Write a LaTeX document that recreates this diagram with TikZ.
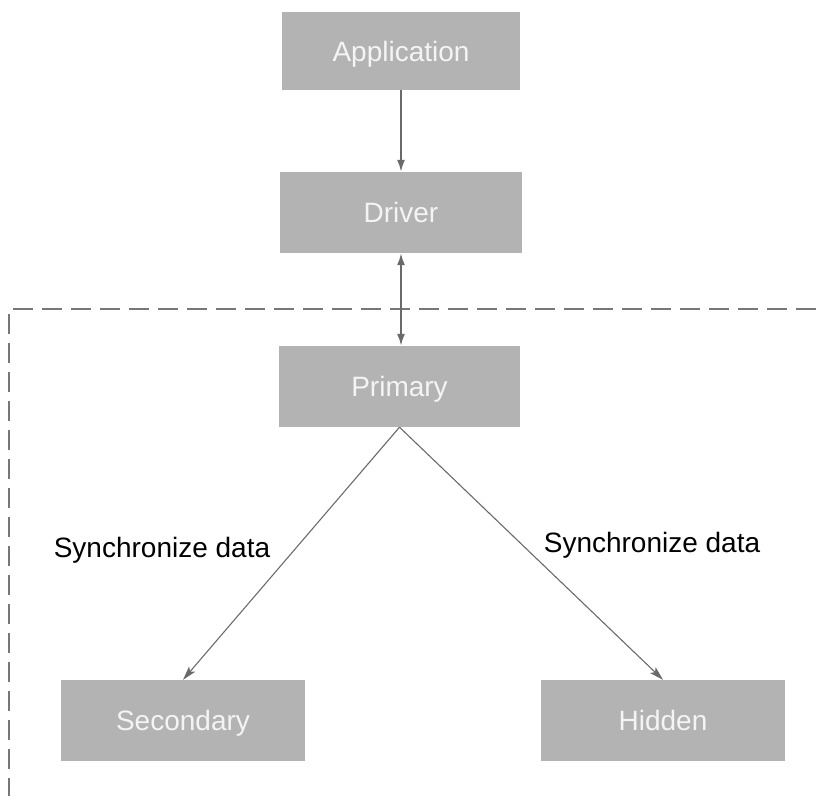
\documentclass[tikz,border=0pt]{standalone}
\usepackage{fontspec}
\setmainfont{Liberation Sans}
\usetikzlibrary{arrows.meta}
\definecolor{boxgray}{HTML}{B3B3B3}
\definecolor{boxtext}{HTML}{F4F4F4}
\definecolor{linegray}{HTML}{6A6A6A}
\definecolor{dashgray}{HTML}{777777}
\tikzset{
  block/.style={fill=boxgray, draw=none, inner sep=0pt, text=boxtext,
    text depth=0pt, font=\fontsize{28}{32}\selectfont},
  link/.style={draw=linegray, line width=1.8pt,
    -{Latex[length=12pt,width=8pt]}},
  twoway/.style={draw=linegray, line width=1.8pt,
    {Latex[length=12pt,width=8pt]}-{Latex[length=12pt,width=8pt]}},
  sync/.style={draw=linegray, line width=1.1pt,
    -{Stealth[length=14pt,width=8pt,inset=3pt]}},
  zone/.style={draw=dashgray, line width=1.6pt, dash pattern=on 20pt off 9pt},
  note/.style={font=\fontsize{28}{32}\selectfont, text=black, inner sep=0pt}
}
\begin{document}
\begin{tikzpicture}[x=1pt,y=-1pt]
  \useasboundingbox (0,0) rectangle (816,796);

  % boundary of the storage cluster
  \coordinate (zoneTR) at (816,309);
  \coordinate (zoneTL) at (9,309);
  \coordinate (zoneBL) at (9,796);
  \draw[zone] (zoneTR) -- (zoneTL) -- (zoneBL);

  % boxes
  \node[block, minimum width=238pt, minimum height=78pt] (app) at (401,51) {Application};
  \node[block, minimum width=242pt, minimum height=81pt] (drv) at (401,212.5) {Driver};
  \node[block, minimum width=241pt, minimum height=81pt] (pri) at (399.5,386.5) {Primary};
  \node[block, minimum width=244pt, minimum height=81pt] (sec) at (183,720.5) {Secondary};
  \node[block, minimum width=244pt, minimum height=81pt] (hid) at (663,720.5) {Hidden};

  % connectors
  \draw[link] (app.south) -- (drv.north);
  \draw[twoway] (drv.south) -- (drv.south |- pri.north);
  \draw[sync] (pri.south) -- (sec.north);
  \draw[sync] (pri.south) -- (hid.north);

  % labels
  \node[note] (lblL) at (162,550) {Synchronize data};
  \node[note] (lblR) at (652,545) {Synchronize data};
\end{tikzpicture}
\end{document}
